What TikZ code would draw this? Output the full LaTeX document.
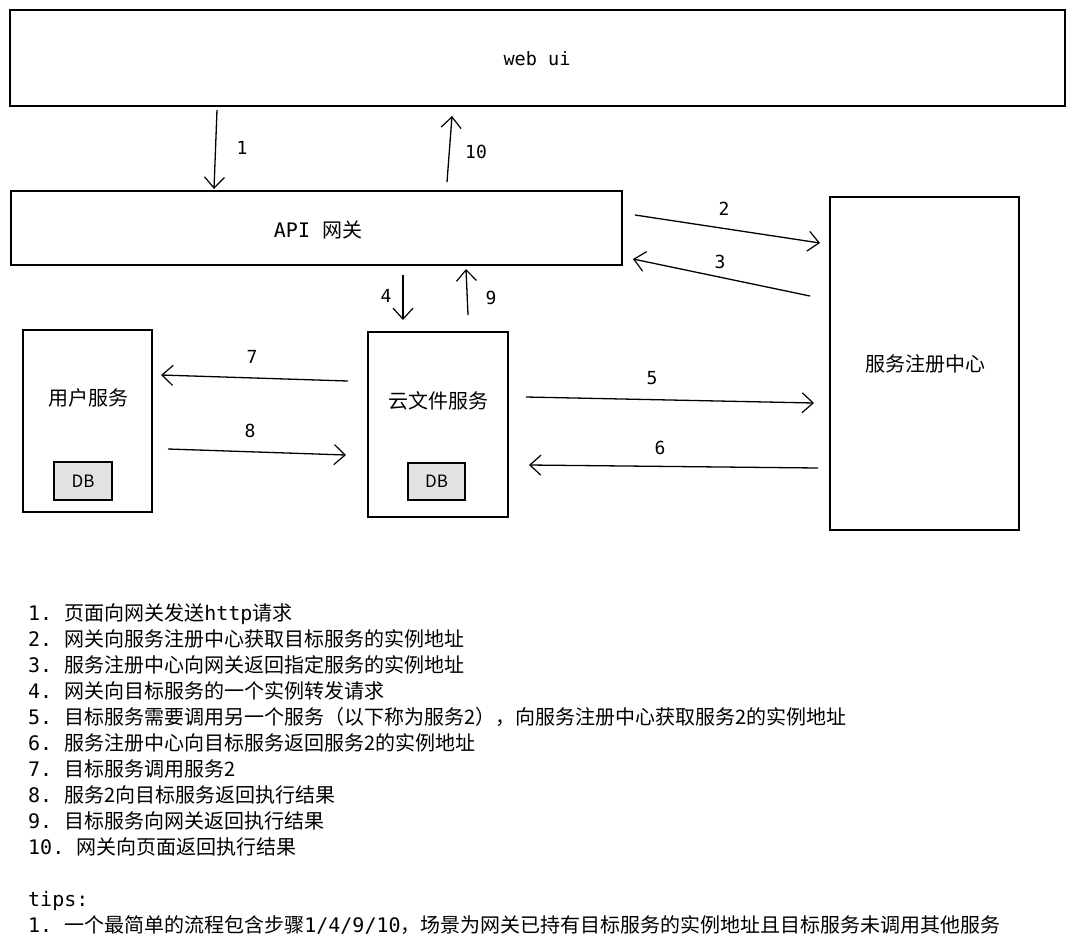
\documentclass[tikz,border=0pt]{standalone}
\usepackage{fontspec}
\setmainfont{Noto Sans CJK SC}
\setmonofont{DejaVu Sans Mono}
\usetikzlibrary{arrows.meta}
\newcommand\mono[1]{{\ttfamily #1}}
\begin{document}
\begin{tikzpicture}[x=1pt,y=-1pt,
  box/.style={draw, line width=1.3pt, inner sep=0pt, outer sep=0pt},
  dbbox/.style={draw, line width=1.3pt, fill=gray!22, inner sep=0pt, font=\fontsize{17}{17}\selectfont},
  arr/.style={-{Straight Barb[length=11pt,width=20pt,line width=1.2pt]}, line width=1.3pt},
  num/.style={font=\fontsize{18}{18}\ttfamily, inner sep=0pt},
  cjk/.style={font=\fontsize{20}{20}\selectfont, inner sep=0pt},
  item/.style={anchor=base west, inner sep=0pt, font=\fontsize{20}{20}\selectfont}]
\useasboundingbox (0,0) rectangle (1075,946);
\fill[white] (0,0) rectangle (1075,946);
% boxes
\node[box, minimum width=1055pt, minimum height=96pt] (web) at (537.5,58) {};
\node[box, minimum width=611pt, minimum height=74pt] (api) at (316.5,228) {};
\node[box, minimum width=189pt, minimum height=333pt] (reg) at (924.5,363.5) {};
\node[box, minimum width=129pt, minimum height=182pt] (user) at (87.5,421) {};
\node[box, minimum width=140pt, minimum height=185pt] (file) at (438,424.5) {};
\node[dbbox, minimum width=58pt, minimum height=38pt] (db1) at (83,481) {DB};
\node[dbbox, minimum width=57pt, minimum height=37pt] (db2) at (436.5,481.5) {DB};
% texts
\node[num, font=\fontsize{18.5}{18.5}\ttfamily] (webt) at (537,59) {web ui};
\node[cjk] (apit) at (318,230) {\mono{API }网关};
\node[cjk] (regt) at (925,364) {服务注册中心};
\node[cjk] (usert) at (88,398) {用户服务};
\node[cjk] (filet) at (438,401) {云文件服务};
% arrow end points
\coordinate (a1s) at (217,110); \coordinate (a1e) at (214,189);
\coordinate (a10s) at (447,182); \coordinate (a10e) at (452,116);
\coordinate (a2s) at (635,215); \coordinate (a2e) at (820,243);
\coordinate (a3s) at (810,296); \coordinate (a3e) at (633,259);
\coordinate (a4s) at (403,275); \coordinate (a4e) at (403,320);
\coordinate (a9s) at (468,315); \coordinate (a9e) at (466,269);
\coordinate (a7s) at (348,381); \coordinate (a7e) at (161,375);
\coordinate (a8s) at (168,449); \coordinate (a8e) at (346,455);
\coordinate (a5s) at (526,397); \coordinate (a5e) at (814,403);
\coordinate (a6s) at (818,468); \coordinate (a6e) at (529,465);
\draw[arr] (a1s) -- (a1e);
\draw[arr] (a10s) -- (a10e);
\draw[arr] (a2s) -- (a2e);
\draw[arr] (a3s) -- (a3e);
\draw[arr] (a4s) -- (a4e);
\draw[arr] (a9s) -- (a9e);
\draw[arr] (a7s) -- (a7e);
\draw[arr] (a8s) -- (a8e);
\draw[arr] (a5s) -- (a5e);
\draw[arr] (a6s) -- (a6e);
% arrow labels
\node[num] (n1) at (242,148) {1};
\node[num] (n10) at (476,152) {10};
\node[num] (n2) at (724,209) {2};
\node[num] (n3) at (720,262) {3};
\node[num] (n4) at (386,296) {4};
\node[num] (n9) at (491,298) {9};
\node[num] (n7) at (252,357) {7};
\node[num] (n8) at (250,431) {8};
\node[num] (n5) at (652,378) {5};
\node[num] (n6) at (660,448) {6};
% list
\node[item] (l1) at (28,620) {\mono{1. }页面向网关发送\mono{http}请求};
\node[item] (l2) at (28,646) {\mono{2. }网关向服务注册中心获取目标服务的实例地址};
\node[item] (l3) at (28,672) {\mono{3. }服务注册中心向网关返回指定服务的实例地址};
\node[item] (l4) at (28,698) {\mono{4. }网关向目标服务的一个实例转发请求};
\node[item] (l5) at (28,724) {\mono{5. }目标服务需要调用另一个服务（以下称为服务2），向服务注册中心获取服务2的实例地址};
\node[item] (l6) at (28,750) {\mono{6. }服务注册中心向目标服务返回服务2的实例地址};
\node[item] (l7) at (28,776) {\mono{7. }目标服务调用服务2};
\node[item] (l8) at (28,802) {\mono{8. }服务2向目标服务返回执行结果};
\node[item] (l9) at (28,828) {\mono{9. }目标服务向网关返回执行结果};
\node[item] (l10) at (28,854) {\mono{10. }网关向页面返回执行结果};
\node[item] (tips) at (28,906) {\mono{tips:}};
\node[item] (t1) at (28,932) {\mono{1. }一个最简单的流程包含步骤\mono{1/4/9/10}，场景为网关已持有目标服务的实例地址且目标服务未调用其他服务};
\end{tikzpicture}
\end{document}
